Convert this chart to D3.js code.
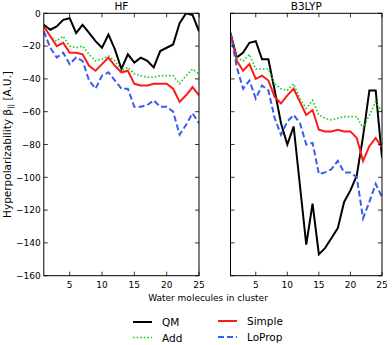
<!DOCTYPE html>
<html>
<head>
<meta charset="utf-8">
<script src="https://cdn.jsdelivr.net/npm/d3@7"></script>
<style>
  body { margin: 0; background: #fff; }
  text { font-family: "DejaVu Sans", sans-serif; fill: #000; }
</style>
</head>
<body>
<svg id="chart" width="392" height="345"></svg>
<script>
// number of water molecules
const molecules = d3.range(1, 26);

// HF panel
const hf_qm     = [-7,-10,-8,-4,-3,-12,-7,-12,-17,-21,-13,-22,-34,-25,-30,-27,-29,-33,-23,-21,-19,-6,0,-1,-11];
const hf_add    = [-8,-14,-17,-14,-20,-21,-20,-25,-29,-28,-26,-29,-35,-33,-37,-38,-39,-39,-38,-38,-38,-43,-38,-34,-37];
const hf_simple = [-8,-14,-20,-18,-24,-24,-25,-32,-35,-31,-27,-32,-36,-35,-43,-44,-44,-43,-43,-43,-46,-54,-50,-45,-50];
const hf_loprop = [-11,-21,-27,-24,-31,-27,-29,-41,-46,-38,-36,-41,-46,-46,-57,-57,-56,-53,-57,-57,-60,-74,-68,-61,-67];

// B3LYP panel
const b3_qm     = [-12,-27,-24,-18,-17,-28,-28,-47,-67,-80,-69,-105,-141,-116,-147,-143,-137,-131,-115,-108,-99,-75,-47,-47,-88];
const b3_add    = [-12,-27,-29,-25,-34,-34,-34,-43,-46,-47,-43,-52,-58,-53,-62,-64,-65,-64,-63,-63,-63,-70,-62,-54,-60];
const b3_simple = [-12,-29,-35,-31,-40,-38,-41,-51,-55,-50,-46,-54,-62,-59,-71,-72,-72,-71,-72,-72,-76,-90,-81,-76,-82];
const b3_loprop = [-12,-33,-46,-41,-52,-44,-47,-64,-74,-66,-62,-67,-80,-79,-98,-97,-95,-90,-97,-97,-100,-125,-115,-104,-112];

const xticks = [5,10,15,20,25];
const yticks = [0,-20,-40,-60,-80,-100,-120,-140,-160];

const series = [
    {name:'QM',     color:'#000000', width:2,   dash:null},
    {name:'Add',    color:'#1fc91f', width:1.6, dash:'1.6,2'},
    {name:'Simple', color:'#ff1a1a', width:2,   dash:null},
    {name:'LoProp', color:'#3a5cf0', width:2,   dash:'6,3'}
];

const panels = [
    {title:'HF',    x0:43.8, x1:199, data:[hf_qm, hf_add, hf_simple, hf_loprop], labels:true},
    {title:'B3LYP', x0:230.5, x1:382, data:[b3_qm, b3_add, b3_simple, b3_loprop], labels:false}
];

const svg = d3.select('#chart');

const yScale = d3.scaleLinear()
    .domain([-160, 0])
    .range([275.7, 13.3]);

const tickLen = 4;

panels.forEach(p => {
    const xScale = d3.scaleLinear()
        .domain([1, 25])
        .range([p.x0, p.x1]);

    const g = svg.append('g');

    // clip to the frame
    const clipId = 'clip_' + p.title;
    g.append('clipPath').attr('id', clipId)
        .append('rect')
        .attr('x', p.x0).attr('y', yScale(0))
        .attr('width', p.x1 - p.x0).attr('height', yScale(-160) - yScale(0));

    const line = d3.line()
        .x((d, i) => xScale(molecules[i]))
        .y(d => yScale(d));

    const lines = g.append('g').attr('clip-path', `url(#${clipId})`);
    // draw order: QM, Add, Simple, LoProp
    series.forEach((s, k) => {
        lines.append('path')
            .datum(p.data[k])
            .attr('d', line)
            .attr('fill', 'none')
            .attr('stroke', s.color)
            .attr('stroke-width', s.width)
            .attr('stroke-dasharray', s.dash)
            .attr('stroke-linejoin', 'miter');
    });

    // inward ticks on all sides
    xticks.forEach(t => {
        g.append('line')
            .attr('x1', xScale(t)).attr('x2', xScale(t))
            .attr('y1', yScale(-160)).attr('y2', yScale(-160) - tickLen)
            .attr('stroke', '#000').attr('stroke-width', 0.8);
        g.append('line')
            .attr('x1', xScale(t)).attr('x2', xScale(t))
            .attr('y1', yScale(0)).attr('y2', yScale(0) + tickLen)
            .attr('stroke', '#000').attr('stroke-width', 0.8);
        g.append('text')
            .attr('x', xScale(t))
            .attr('y', yScale(-160) + 12)
            .attr('text-anchor', 'middle')
            .style('font-size', '9px')
            .text(t);
    });

    yticks.forEach(t => {
        g.append('line')
            .attr('x1', p.x0).attr('x2', p.x0 + tickLen)
            .attr('y1', yScale(t)).attr('y2', yScale(t))
            .attr('stroke', '#000').attr('stroke-width', 0.8);
        g.append('line')
            .attr('x1', p.x1).attr('x2', p.x1 - tickLen)
            .attr('y1', yScale(t)).attr('y2', yScale(t))
            .attr('stroke', '#000').attr('stroke-width', 0.8);
        if (p.labels)
            g.append('text')
                .attr('x', p.x0 - 3)
                .attr('y', yScale(t) + 3.2)
                .attr('text-anchor', 'end')
                .style('font-size', '9px')
                .text(t === 0 ? '0' : '\u2212' + Math.abs(t));
    });

    // frame
    g.append('rect')
        .attr('x', p.x0).attr('y', yScale(0))
        .attr('width', p.x1 - p.x0).attr('height', yScale(-160) - yScale(0))
        .attr('fill', 'none')
        .attr('stroke', '#000')
        .attr('stroke-width', 1);

    // title
    g.append('text')
        .attr('x', (p.x0 + p.x1) / 2)
        .attr('y', 10)
        .attr('text-anchor', 'middle')
        .style('font-size', '10.5px')
        .text(p.title);
});

// y label
const ylab = svg.append('text')
    .attr('transform', `translate(10.5,${(yScale(0) + yScale(-160)) / 2}) rotate(-90)`)
    .attr('text-anchor', 'middle')
    .style('font-size', '10.5px');
ylab.append('tspan').text('Hyperpolarizability \u03b2');
ylab.append('tspan').attr('dy', 2).style('font-size', '7.5px').text('||');
ylab.append('tspan').attr('dy', -2).text(' [A.U.]');

// x label
svg.append('text')
    .attr('x', 208)
    .attr('y', 301)
    .attr('text-anchor', 'middle')
    .style('font-size', '9px')
    .text('Water molecules in cluster');

// legend
const legendPos = [
    {x:133, y:322}, {x:133, y:337.5}, {x:218, y:321}, {x:218, y:337}
];
series.forEach((s, k) => {
    const lp = legendPos[k];
    svg.append('line')
        .attr('x1', lp.x).attr('x2', lp.x + 19)
        .attr('y1', lp.y).attr('y2', lp.y)
        .attr('stroke', s.color)
        .attr('stroke-width', s.width)
        .attr('stroke-dasharray', s.dash);
    svg.append('text')
        .attr('x', lp.x + 29)
        .attr('y', lp.y + 4)
        .style('font-size', '10.5px')
        .text(s.name);
});
</script>
</body>
</html>
